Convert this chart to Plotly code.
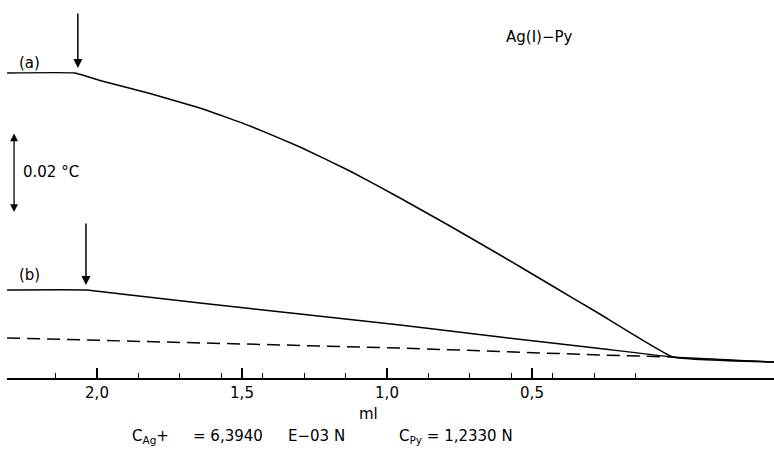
import plotly.graph_objects as go

# ---- data (ml, delta T in degC) ----
ml_a = [2.31, 2.076, 1.990, 1.817, 1.645, 1.472, 1.300, 1.128, 0.955, 0.783, 0.610, 0.438, 0.266, 0.014, -0.335]
dT_a = [0.0710, 0.0710, 0.06913, 0.06588, 0.06225, 0.05775, 0.0525, 0.0465, 0.03975, 0.03275, 0.0255, 0.01813, 0.01075, 0.0, -0.00125]

ml_b = [2.31, 2.038, 1.886, 1.645, 1.300, 0.955, 0.610, 0.266, 0.014, -0.335]
dT_b = [0.01675, 0.01675, 0.0155, 0.0135, 0.01075, 0.0080, 0.0050, 0.00213, 0.0, -0.00125]

ml_base = [2.31, 0.955, 0.266, 0.014]
dT_base = [0.00475, 0.00225, 0.0005, 0.0]

major_ticks = [2.0, 1.5, 1.0, 0.5]
major_labels = ["2,0", "1,5", "1,0", "0,5"]
minor_ticks = [2.143, 2.0, 1.857, 1.714, 1.571, 1.429, 1.286, 1.143, 1.0, 0.857, 0.714, 0.571, 0.429, 0.286, 0.143]

FONT = "DejaVu Sans"

fig = go.Figure()
line = dict(color="black", width=1.5, shape="spline", smoothing=0.3)
fig.add_trace(go.Scatter(x=ml_a, y=dT_a, mode="lines", line=line, showlegend=False, hoverinfo="skip"))
fig.add_trace(go.Scatter(x=ml_b, y=dT_b, mode="lines", line=line, showlegend=False, hoverinfo="skip"))
fig.add_trace(go.Scatter(x=ml_base, y=dT_base, mode="lines", hoverinfo="skip",
                         line=dict(color="black", width=1.5, dash="13px,7px"), showlegend=False))

W, H = 774, 450
L, B = 7, 72
PW, PH = W - L, H - B


def px(x):
    return (x - L) / PW


def py(y):
    return (PH - y) / PH


ann = []
# titration-start arrows
ann.append(dict(x=2.066, y=0.07225, xref="x", yref="y", ax=0, ay=-56, showarrow=True,
                arrowhead=2, arrowsize=1.2, arrowwidth=1.5, arrowcolor="black", text=""))
ann.append(dict(x=2.038, y=0.0180, xref="x", yref="y", ax=0, ay=-63, showarrow=True,
                arrowhead=2, arrowsize=1.2, arrowwidth=1.5, arrowcolor="black", text=""))
# scale bar 0.02 degC
ann.append(dict(x=2.286, y=0.03625, xref="x", yref="y", ax=2.286, ay=0.05625, axref="x", ayref="y",
                showarrow=True, arrowhead=2, startarrowhead=2, arrowside="end+start",
                arrowsize=1.2, startarrowsize=1.2, arrowwidth=1.3, arrowcolor="black", text=""))

txt_font = dict(family=FONT, size=15, color="black")


def label(x, y, text, anchor="left"):
    ann.append(dict(x=px(x), y=py(y), xref="paper", yref="paper", text=text, showarrow=False,
                    xanchor=anchor, yanchor="middle", font=txt_font))


label(17, 63, "(a)")
label(17, 275, "(b)")
label(21, 172, "0.02 °C")
label(504, 37, "Ag(I)−Py")
label(368, 414, "ml", "center")
label(130, 436, "C<sub>Ag</sub>+")
label(191, 436, "= 6,3940")
label(286, 436, "E−03 N")
label(397, 436, "C<sub>Py</sub> = 1,2330 N")

fig.update_layout(
    width=W, height=H,
    margin=dict(l=L, r=0, t=0, b=B, pad=0),
    paper_bgcolor="white", plot_bgcolor="white",
    annotations=ann,
    hovermode=False,
    xaxis=dict(range=[2.3103, -0.3345], showgrid=False, zeroline=False,
               showline=True, linecolor="black", linewidth=1.5,
               tickmode="array", tickvals=major_ticks, ticktext=major_labels,
               ticks="inside", ticklen=10, tickwidth=1.5, tickcolor="black",
               tickfont=dict(family=FONT, size=15, color="black"),
               minor=dict(tickmode="array", tickvals=minor_ticks, ticks="inside",
                          ticklen=5, tickwidth=1.2, tickcolor="black", showgrid=False)),
    yaxis=dict(range=[-0.00525, 0.08925], visible=False, showgrid=False, zeroline=False),
)

fig.write_html("out.html", config={"displayModeBar": False},
               post_script="document.body.style.margin='0';document.body.style.overflow='hidden';")
